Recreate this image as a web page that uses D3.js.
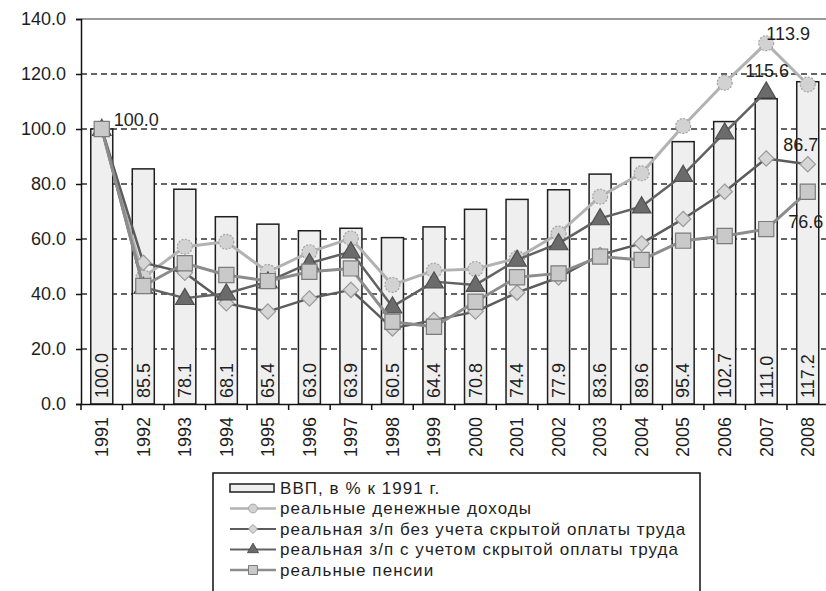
<!DOCTYPE html>
<html>
<head>
<meta charset="utf-8">
<script src="https://cdn.jsdelivr.net/npm/d3@7"></script>
<style>
  body { margin: 0; background: #fff; }
  text { font-family: "Liberation Sans", Arial, sans-serif; fill: #1e1e1e; }
</style>
</head>
<body>
<script>
// data
var years = ["1991","1992","1993","1994","1995","1996","1997","1998","1999",
             "2000","2001","2002","2003","2004","2005","2006","2007","2008"];
var gdp = [100.0, 85.5, 78.1, 68.1, 65.4, 63.0, 63.9, 60.5, 64.4,
           70.8, 74.4, 77.9, 83.6, 89.6, 95.4, 102.7, 111.0, 117.2];
var incomes = [100, 46, 57.2, 59.0, 48, 55.2, 60.2, 43.3, 48.5,
               49.1, 53, 62, 75.4, 83.9, 101.1, 116.8, 131.2, 116.2];
var wageOfficial = [100, 51.4, 47.7, 36.6, 33.6, 38.4, 41.5, 27.5, 30.5,
                    33.6, 40.5, 46, 54.2, 58.4, 67.3, 77.2, 89.3, 87.2];
var wageHidden = [100, 42.5, 38.5, 40.2, 44.5, 51.2, 55.4, 35.4, 44.5,
                  43.3, 52.4, 58.4, 67.5, 71.8, 83.3, 98.7, 113.6, null];
var pensions = [100, 42.9, 51.2, 46.9, 44.7, 48.1, 49.3, 29.9, 28.1,
                37.2, 46.1, 47.5, 53.6, 52.4, 59.4, 61.1, 63.6, 77.2];
var yTicks = [0, 20, 40, 60, 80, 100, 120, 140];
var seriesNames = ["ВВП, в % к 1991 г.",
                   "реальные денежные доходы",
                   "реальная з/п без учета скрытой оплаты труда",
                   "реальная з/п с учетом скрытой оплаты труда",
                   "реальные пенсии"];
// point labels: [series index, year, text]
var pointLabels = [[3, "1991", "100.0"], [0, "2007", "113.9"], [2, "2007", "115.6"],
                   [1, "2008", "86.7"], [3, "2008", "76.6"]];

var width = 826, height = 591;
var pLeft = 81, pRight = 828.5, pTop = 19, pBottom = 404;

var svg = d3.select("body").append("svg")
    .attr("width", width)
    .attr("height", height);

var x = d3.scaleBand().domain(years).range([pLeft, pRight]).padding(0);
var y = d3.scaleLinear().domain([0, 140]).range([pBottom, pTop]);

// grid
svg.append("g").selectAll("line")
    .data(yTicks.filter(function(d) { return d > 0 && d < 140; }))
    .enter().append("line")
    .attr("x1", pLeft).attr("x2", width)
    .attr("y1", function(d) { return y(d); })
    .attr("y2", function(d) { return y(d); })
    .attr("stroke", "#333")
    .attr("stroke-width", 1.5)
    .attr("stroke-dasharray", "6,4");
svg.append("line")
    .attr("x1", pLeft).attr("x2", width)
    .attr("y1", y(140)).attr("y2", y(140))
    .attr("stroke", "#9a9a9a").attr("stroke-width", 2);

// bars
var bw = x.bandwidth() * 0.53;
svg.append("g").selectAll("rect")
    .data(gdp)
    .enter().append("rect")
    .attr("x", function(d, i) { return x(years[i]) + (x.bandwidth() - bw) / 2; })
    .attr("y", function(d) { return y(d); })
    .attr("width", bw)
    .attr("height", function(d) { return y(0) - y(d); })
    .attr("fill", "#efefef")
    .attr("stroke", "#1e1e1e")
    .attr("stroke-width", 1.5);

svg.append("g").selectAll("text")
    .data(gdp)
    .enter().append("text")
    .attr("transform", function(d, i) {
        return "translate(" + (x(years[i]) + x.bandwidth() / 2) + "," + (pBottom - 6) + ") rotate(-90)";
    })
    .attr("dy", "0.35em")
    .attr("font-size", 18)
    .text(function(d) { return d3.format(".1f")(d); });

// axes
var yAxis = svg.append("g")
    .attr("transform", "translate(" + pLeft + ",0)")
    .call(d3.axisLeft(y).tickValues(yTicks).tickFormat(d3.format(".1f")).tickSize(5).tickPadding(10));
yAxis.select(".domain").attr("stroke", "#111").attr("stroke-width", 1.5);
yAxis.selectAll("text").attr("font-size", 18).attr("font-family", null).attr("fill", "#1e1e1e");
yAxis.selectAll(".tick line").attr("stroke", "#111").attr("stroke-width", 1.5);

var xAxis = svg.append("g")
    .attr("transform", "translate(0," + pBottom + ")")
    .call(d3.axisBottom(x).tickSize(0).tickSizeOuter(0));
xAxis.select(".domain").attr("stroke", "#111").attr("stroke-width", 1.5);
xAxis.selectAll("text")
    .attr("font-size", 18).attr("font-family", null).attr("fill", "#1e1e1e")
    .attr("transform", "rotate(-90)")
    .attr("text-anchor", "end")
    .attr("x", -13).attr("y", 0).attr("dy", "0.35em");
xAxis.append("g").selectAll("line")
    .data(years)
    .enter().append("line")
    .attr("x1", function(d) { return x(d); })
    .attr("x2", function(d) { return x(d); })
    .attr("y1", 0).attr("y2", 6)
    .attr("stroke", "#111").attr("stroke-width", 1.5);

// lines + markers
var series = [
    { values: incomes, line: "#b2b2b2", lw: 3, marker: "circle", fill: "#d2d2d2", stroke: "#a4a4a4", dash: "2,1.5" },
    { values: wageOfficial, line: "#5c5c5c", lw: 2.5, marker: "diamond", fill: "#d6d6d6", stroke: "#9a9a9a", dash: null },
    { values: wageHidden, line: "#626262", lw: 2.5, marker: "triangle", fill: "#6b6b6b", stroke: "#505050", dash: null },
    { values: pensions, line: "#8c8c8c", lw: 3, marker: "square", fill: "#c9c9c9", stroke: "#7c7c7c", dash: null }
];

var symbolSize = { circle: 175, diamond: 150, triangle: 150, square: 230 };
var symbolType = { circle: d3.symbolCircle, diamond: d3.symbolDiamond2, triangle: d3.symbolTriangle, square: d3.symbolSquare };

function cx(i) { return x(years[i]) + x.bandwidth() / 2; }

var line = d3.line()
    .defined(function(d) { return d != null; })
    .x(function(d, i) { return cx(i); })
    .y(function(d) { return y(d); });

series.forEach(function(s) {
    var g = svg.append("g");
    g.append("path")
        .attr("d", line(s.values))
        .attr("fill", "none")
        .attr("stroke", s.line)
        .attr("stroke-width", s.lw)
        .attr("stroke-linejoin", "round");
    g.selectAll("path.m")
        .data(s.values.map(function(v, i) { return [v, i]; }).filter(function(d) { return d[0] != null; }))
        .enter().append("path")
        .attr("class", "m")
        .attr("transform", function(d) {
            var dy = s.marker === "triangle" ? 1 : 0;
            return "translate(" + cx(d[1]) + "," + (y(d[0]) + dy) + ")";
        })
        .attr("d", d3.symbol().type(symbolType[s.marker]).size(symbolSize[s.marker])())
        .attr("fill", s.fill)
        .attr("stroke", s.stroke)
        .attr("stroke-width", 1.2)
        .attr("stroke-dasharray", s.dash);
});

// point labels
var labelOffset = { "100.0": [12, -3, "start"], "113.9": [0, -3, "start"], "115.6": [1, -15, "middle"],
                    "86.7": [-7, -13, "middle"], "76.6": [-2, 36, "middle"] };
svg.append("g").selectAll("text")
    .data(pointLabels)
    .enter().append("text")
    .attr("x", function(d) { return cx(years.indexOf(d[1])) + labelOffset[d[2]][0]; })
    .attr("y", function(d) { return y(series[d[0]].values[years.indexOf(d[1])]) + labelOffset[d[2]][1]; })
    .attr("text-anchor", function(d) { return labelOffset[d[2]][2]; })
    .attr("font-size", 18)
    .text(function(d) { return d[2]; });

// legend
var lg = svg.append("g");
lg.append("rect")
    .attr("x", 213).attr("y", 473)
    .attr("width", 487).attr("height", 140)
    .attr("fill", "#fff").attr("stroke", "#111").attr("stroke-width", 1.5);

var rowY = function(i) { return 488 + i * 20.5; };
lg.append("rect")
    .attr("x", 230).attr("y", rowY(0) - 4)
    .attr("width", 44).attr("height", 8)
    .attr("fill", "#efefef").attr("stroke", "#1e1e1e").attr("stroke-width", 1.5);

series.forEach(function(s, k) {
    var yy = rowY(k + 1);
    lg.append("line")
        .attr("x1", 230).attr("x2", 276)
        .attr("y1", yy).attr("y2", yy)
        .attr("stroke", s.line).attr("stroke-width", s.lw - 0.5);
    lg.append("path")
        .attr("transform", "translate(253," + yy + ")")
        .attr("d", d3.symbol().type(symbolType[s.marker]).size(symbolSize[s.marker] * 0.35)())
        .attr("fill", s.fill)
        .attr("stroke", s.stroke)
        .attr("stroke-width", 1);
});

lg.selectAll("text")
    .data(seriesNames)
    .enter().append("text")
    .attr("x", 280)
    .attr("y", function(d, i) { return rowY(i); })
    .attr("dy", "0.35em")
    .attr("font-size", 17)
    .attr("letter-spacing", 1.05)
    .text(function(d) { return d; });
</script>
</body>
</html>
